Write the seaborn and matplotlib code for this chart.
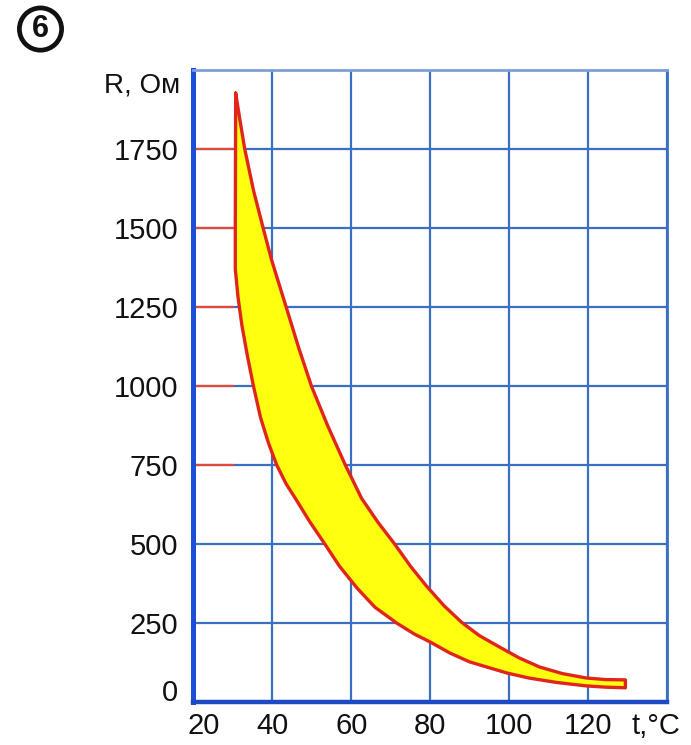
import matplotlib
matplotlib.use("Agg")
import matplotlib.pyplot as plt
import matplotlib.transforms as mtransforms
import seaborn as sns
import pandas as pd

# ---- data ----
upper_t = [30.7, 31.8, 33, 35.2, 37.6, 39.8, 43.5, 46.7, 49.9, 54, 58.5, 62.6, 66.7, 71,
           75, 79, 83.5, 88, 92.5, 97.6, 102.5, 107.7, 113.5, 119.6, 124.5, 129.5]
upper_r = [1927, 1840, 1750, 1620, 1503, 1399, 1250, 1120, 1000, 875, 750, 645, 570, 500,
           430, 368, 305, 252, 210, 174, 140, 111, 90, 76, 71, 70]
lower_t = [30.7, 30.6, 30.6, 31.3, 32.3, 33.6, 35.2, 37, 39, 41.1, 43.5, 46.1, 49.5, 53.3,
           57, 61.5, 66, 71.5, 76, 80, 85, 90, 99.4, 105, 112, 119.6, 124.5, 129.5]
lower_r = [1927, 1500, 1370, 1280, 1190, 1100, 1000, 900, 820, 750, 690, 639, 570, 500,
           430, 360, 300, 250, 215, 190, 155, 127, 92, 76, 62, 51, 47, 45]

x_ticks = [20, 40, 60, 80, 100, 120, 140]
x_labels = ["20", "40", "60", "80", "100", "120", "t,°C"]
y_ticks = [0, 250, 500, 750, 1000, 1250, 1500, 1750]
y_labels = ["0", "250", "500", "750", "1000", "1250", "1500", "1750"]
y_title = "R, Ом"
panel_mark = "6"

sns.set_theme(style="white")
plt.rcParams["font.family"] = ["Liberation Sans", "DejaVu Sans"]

fig = plt.figure(figsize=(6.91, 7.45), dpi=100)
ax = fig.add_axes([0.280, 0.0577, 0.685, 0.8483])

# filled band (closed polygon: upper curve forward, lower curve backward)
poly_t = upper_t + lower_t[::-1]
poly_r = upper_r + lower_r[::-1]
ax.fill(poly_t, poly_r, color="#ffff10", zorder=3, lw=0)

outline_df = pd.DataFrame({"t": poly_t + [poly_t[0]], "R": poly_r + [poly_r[0]]})
line = sns.lineplot(data=outline_df, x="t", y="R", sort=False, estimator=None,
                    color="#e0261b", lw=2.4, ax=ax, zorder=4)
for ln in ax.lines:
    ln.set_solid_joinstyle("round")

ax.set_xlim(20, 140)
ax.set_ylim(0, 2000)
ax.set_xticks(x_ticks)
ax.set_xticklabels(x_labels)
ax.set_yticks(y_ticks)
ax.set_yticklabels(y_labels)
ax.set_xlabel("")
ax.set_ylabel("")

# grid
ax.set_axisbelow(True)
ax.grid(True, color="#3a6fc2", lw=1.6)
# red short segments at the left of horizontal grid lines
for yv in y_ticks[3:]:
    ax.plot([20, 30], [yv, yv], color="#e04a3a", lw=1.6, zorder=2)

ax.tick_params(axis="both", length=0, labelsize=21, colors="#111111")
ax.tick_params(axis="y", pad=11)
ax.tick_params(axis="x", pad=7)

def shift(lbl, dx_px, dy_px):
    lbl.set_transform(lbl.get_transform() +
                      mtransforms.ScaledTranslation(dx_px / 100, dy_px / 100,
                                                    fig.dpi_scale_trans))

shift(ax.get_yticklabels()[0], 0, 12)
shift(ax.get_xticklabels()[0], 10, 0)
shift(ax.get_xticklabels()[-1], -11, 0)

for side, col, lw in [("left", "#1c4fd6", 3.6), ("bottom", "#1c4ac4", 3.2),
                      ("top", "#7d9fd6", 2.0), ("right", "#3a6fc2", 2.0)]:
    ax.spines[side].set_visible(True)
    ax.spines[side].set_color(col)
    ax.spines[side].set_linewidth(lw)

# axis title "R, Ом"
trans = mtransforms.blended_transform_factory(ax.transAxes, ax.transData)
ax.text(-0.028, 1950, y_title, transform=trans, ha="right", va="center",
        fontsize=20, color="#111111")

# panel mark (circled 6)
fig.text(0.0586, 0.961, panel_mark, ha="center", va="center", fontsize=22,
         fontweight="bold", color="#111111",
         bbox=dict(boxstyle="circle,pad=0.2", fc="white", ec="#111111", lw=3.4))

fig.savefig("out.png", dpi=100, facecolor="white")
